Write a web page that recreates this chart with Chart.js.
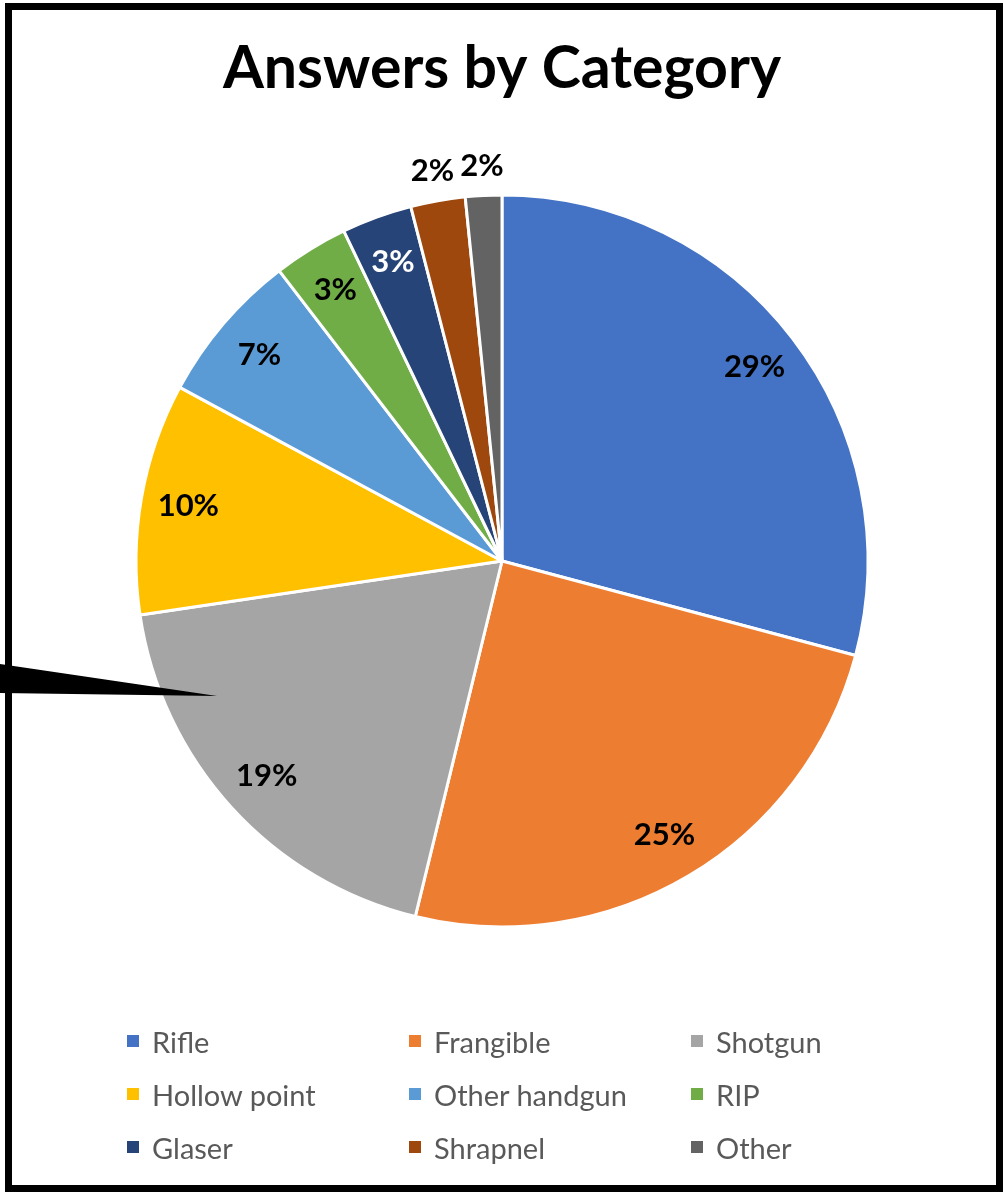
<!DOCTYPE html>
<html>
<head>
<meta charset="utf-8">
<script src="https://cdn.jsdelivr.net/npm/chart.js@4.4.1/dist/chart.umd.min.js"></script>
<style>
  html, body { margin: 0; padding: 0; background: #fff; }
  body { width: 1004px; height: 1192px; position: relative; overflow: hidden; }
  #frame { position: absolute; left: 5px; top: 3px; width: 984px; height: 1175px; border: 7px solid #000; }
  #wrap { position: absolute; left: 0; top: 0; width: 1004px; height: 1192px; }
  #legend { position: absolute; left: 127px; top: 1020px; width: 850px; display: grid;
            grid-template-columns: 282px 282px 282px; grid-auto-rows: 53px;
            font-family: Lato, "Open Sans", sans-serif; font-size: 29px; color: #595959; }
  #legend .item { display: flex; align-items: center; height: 42px; white-space: nowrap; }
  #legend .box { width: 12px; height: 12px; margin-right: 13px; flex: none; }
  #pointer { position: absolute; left: 0; top: 0; }
</style>
</head>
<body>
<div id="frame"></div>
<div id="wrap"><canvas id="c" width="1004" height="1192"></canvas></div>
<div id="legend"></div>
<svg id="pointer" width="1004" height="1192"><polygon points="0,664 0,693 217,696" fill="#000"/></svg>
<script>
const categories = ["Rifle", "Frangible", "Shotgun", "Hollow point", "Other handgun", "RIP", "Glaser", "Shrapnel", "Other"];
const shares = [29.1, 24.6, 18.8, 10.2, 6.7, 3.3, 3.1, 2.4, 1.6];
const colors = ["#4472C4", "#ED7D31", "#A5A5A5", "#FFC000", "#5B9BD5", "#70AD47", "#264478", "#9E480E", "#636363"];
const labelColors = ["#000", "#000", "#000", "#000", "#000", "#000", "#fff", "#000", "#000"];
const outsideLabel = [false, false, false, false, false, false, false, true, true];
const titleText = "Answers by Category";

const total = shares.reduce((a, b) => a + b, 0);

const labelPlugin = {
  id: 'sliceLabels',
  afterDraw(chart) {
    const ctx = chart.ctx;
    const meta = chart.getDatasetMeta(0);
    ctx.save();
    ctx.font = "bold 31px Lato, 'Open Sans', sans-serif";
    ctx.textAlign = 'center';
    ctx.textBaseline = 'middle';
    meta.data.forEach((arc, i) => {
      const p = arc.getProps(['x', 'y', 'startAngle', 'endAngle', 'outerRadius'], true);
      const mid = (p.startAngle + p.endAngle) / 2;
      const r = outsideLabel[i] ? p.outerRadius + 30 : p.outerRadius * 0.87;
      const x = p.x + Math.cos(mid) * r;
      const y = p.y + Math.sin(mid) * r;
      ctx.fillStyle = labelColors[i];
      ctx.fillText(Math.round(shares[i] / total * 100) + '%', x, y);
    });
    ctx.restore();
  }
};

new Chart(document.getElementById('c'), {
  type: 'pie',
  data: {
    labels: categories,
    datasets: [{
      data: shares,
      backgroundColor: colors,
      borderColor: '#fff',
      borderWidth: 3
    }]
  },
  options: {
    responsive: false,
    animation: false,
    layout: { padding: { top: 0, bottom: 263.5, left: 134.5, right: 134.5 } },
    plugins: {
      legend: { display: false },
      tooltip: { enabled: false },
      title: {
        display: true,
        text: titleText,
        color: '#000',
        font: { family: "Lato, 'Open Sans', sans-serif", size: 59, weight: 'bold', lineHeight: 1.2 },
        padding: { top: 34, bottom: 88.7 }
      }
    }
  },
  plugins: [labelPlugin]
});

const legend = document.getElementById('legend');
categories.forEach((name, i) => {
  const item = document.createElement('div');
  item.className = 'item';
  const box = document.createElement('span');
  box.className = 'box';
  box.style.background = colors[i];
  const txt = document.createElement('span');
  txt.textContent = name;
  item.appendChild(box);
  item.appendChild(txt);
  legend.appendChild(item);
});
</script>
</body>
</html>
